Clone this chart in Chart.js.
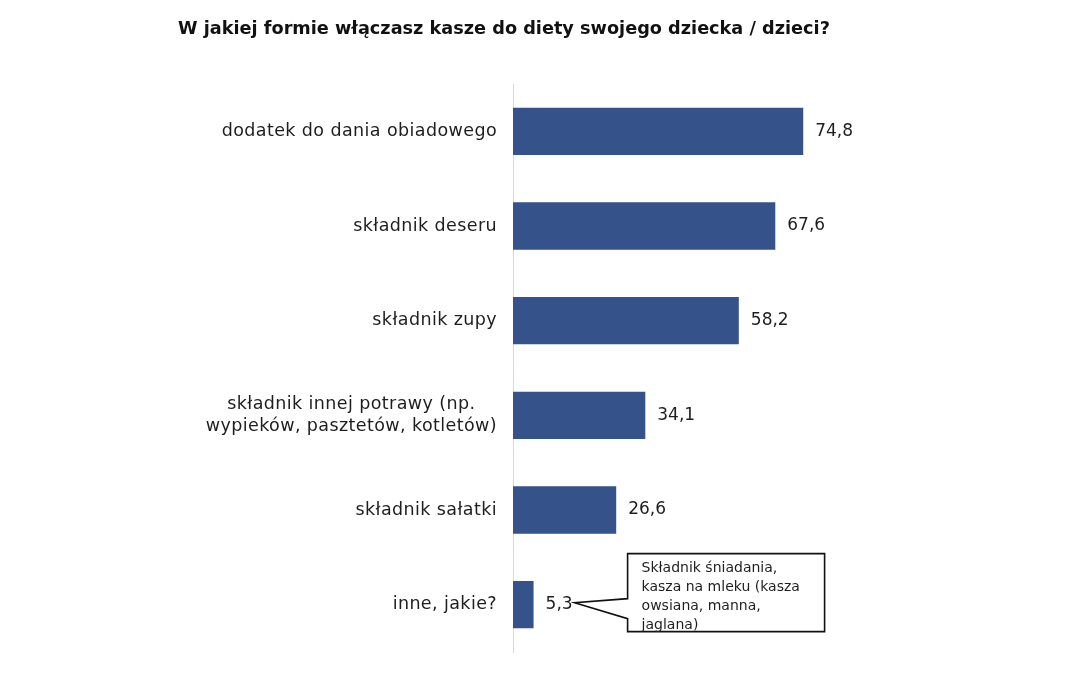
<!DOCTYPE html>
<html>
<head>
<meta charset="utf-8">
<script src="https://cdn.jsdelivr.net/npm/chart.js@4/dist/chart.umd.min.js"></script>
<style>
html,body{margin:0;padding:0;background:#fff;}
#wrap{position:relative;width:1079px;height:677px;}
</style>
</head>
<body>
<div id="wrap"><canvas id="c" width="1079" height="677"></canvas></div>
<script>
const titleText = "W jakiej formie włączasz kasze do diety swojego dziecka / dzieci?";
const categories = [
  ["dodatek do dania obiadowego"],
  ["składnik deseru"],
  ["składnik zupy"],
  ["składnik innej potrawy (np.", "wypieków, pasztetów, kotletów)"],
  ["składnik sałatki"],
  ["inne, jakie?"]
];
const values = [74.8, 67.6, 58.2, 34.1, 26.6, 5.3];
const calloutLines = ["Składnik śniadania,", "kasza na mleku (kasza", "owsiana, manna,", "jaglana)"];
const calloutIndex = 5;

const FONT = "'DejaVu Sans', sans-serif";
const BAR = "#35528a";
const TXT = "#1e1e1e";

const drawPlugin = {
  id: 'custom',
  afterDraw(chart) {
    const ctx = chart.ctx;
    const y = chart.scales.y, x = chart.scales.x;
    ctx.save();
    // title
    ctx.fillStyle = "#111";
    ctx.font = "bold 17.7px " + FONT;
    ctx.textAlign = "center";
    ctx.textBaseline = "middle";
    ctx.fillText(titleText, 504, 29);
    // category labels
    ctx.font = "17.5px " + FONT;
    ctx.letterSpacing = "0.4px";
    ctx.fillStyle = TXT;
    const right = chart.chartArea.left - 16;
    const lh = 22;
    categories.forEach((lines, i) => {
      const cy = y.getPixelForValue(i);
      let w = 0;
      lines.forEach(l => { w = Math.max(w, ctx.measureText(l).width); });
      const cx = right - w / 2;
      const y0 = cy - (lines.length - 1) * lh / 2;
      ctx.textAlign = "center";
      lines.forEach((l, k) => ctx.fillText(l, cx, y0 + k * lh));
    });
    ctx.letterSpacing = "0px";
    // value labels
    ctx.textAlign = "left";
    ctx.font = "17px " + FONT;
    values.forEach((v, i) => {
      const px = x.getPixelForValue(v) + 12;
      const py = y.getPixelForValue(i);
      ctx.fillText(v.toFixed(1).replace('.', ','), px, py);
    });
    // callout
    const vx = x.getPixelForValue(values[calloutIndex]) + 12;
    ctx.font = "17px " + FONT;
    const tipX = vx + ctx.measureText(values[calloutIndex].toFixed(1).replace('.', ',')).width + 2;
    const tipY = y.getPixelForValue(calloutIndex) - 2;
    const bx = tipX + 53, by = tipY - 49, bw = 197, bh = 78;
    ctx.beginPath();
    ctx.moveTo(bx, by);
    ctx.lineTo(bx + bw, by);
    ctx.lineTo(bx + bw, by + bh);
    ctx.lineTo(bx, by + bh);
    ctx.lineTo(bx, tipY + 16);
    ctx.lineTo(tipX, tipY);
    ctx.lineTo(bx, tipY - 4);
    ctx.closePath();
    ctx.fillStyle = "#fff";
    ctx.fill();
    ctx.lineWidth = 1.6;
    ctx.strokeStyle = "#111";
    ctx.stroke();
    ctx.fillStyle = TXT;
    ctx.font = "14px " + FONT;
    ctx.textAlign = "left";
    calloutLines.forEach((l, k) => ctx.fillText(l, bx + 14, by + 15 + k * 19));
    ctx.restore();
  }
};

new Chart(document.getElementById('c'), {
  type: 'bar',
  data: {
    labels: categories,
    datasets: [{
      data: values,
      backgroundColor: BAR,
      borderWidth: 0,
      barPercentage: 0.5,
      categoryPercentage: 1.0
    }]
  },
  options: {
    indexAxis: 'y',
    responsive: false,
    animation: false,
    devicePixelRatio: 1,
    layout: { padding: { left: 513, right: 178, top: 84, bottom: 25 } },
    plugins: { legend: { display: false }, title: { display: false }, tooltip: { enabled: false } },
    scales: {
      x: { display: false, min: 0, max: 100 },
      y: {
        display: true,
        ticks: { display: false },
        grid: { display: false },
        border: { display: true, color: '#d9d9d9', width: 1 },
        afterFit(s) { s.width = 0; }
      }
    }
  },
  plugins: [drawPlugin]
});
</script>
</body>
</html>
